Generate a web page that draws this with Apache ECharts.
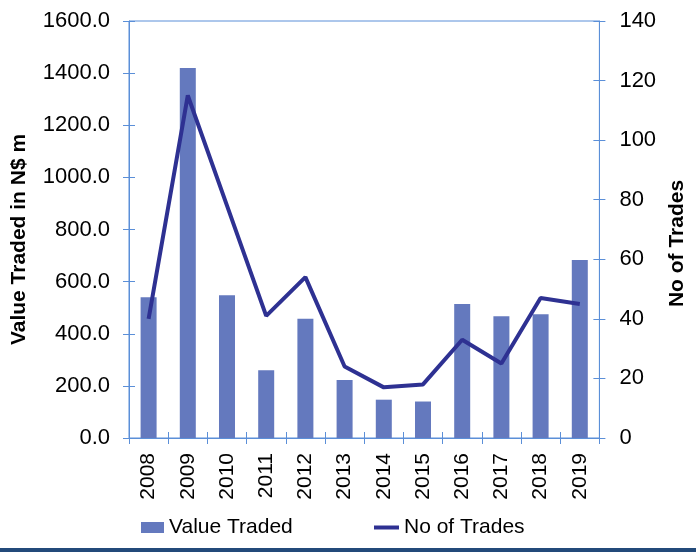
<!DOCTYPE html>
<html>
<head>
<meta charset="utf-8">
<script src="https://cdn.jsdelivr.net/npm/echarts@6/dist/echarts.min.js"></script>
<style>html,body{margin:0;padding:0;background:#fff}#c{width:696px;height:552px}</style>
</head>
<body>
<div id="c"></div>
<script>
const years = ['2008','2009','2010','2011','2012','2013','2014','2015','2016','2017','2018','2019'];
const valueTraded = [540, 1420, 548, 260, 458, 223, 147, 140, 514, 467, 475, 683];
const noOfTrades = [40, 115, 78, 41, 54, 24, 17, 18, 33, 25, 47, 45];
const leftTicks = {min: 0, max: 1600, interval: 200};
const rightTicks = {min: 0, max: 140, interval: 20};

const FONT = 'Liberation Sans';
const AXIS = '#5b8fd8';
const chart = echarts.init(document.getElementById('c'), null, {renderer: 'canvas'});
const tickLen = 6;
chart.setOption({
  animation: false,
  textStyle: {fontFamily: FONT},
  grid: {left: 129, right: 96, top: 21, bottom: 114, show: true, borderColor: AXIS, borderWidth: 1},
  legend: [
    {data: [{name: 'Value Traded', icon: 'rect'}], left: 141, top: 517, itemWidth: 23, itemHeight: 11, itemGap: 0,
     textStyle: {fontFamily: FONT, fontSize: 21, color: '#000'}, padding: 0},
    {data: [{name: 'No of Trades', icon: 'rect'}], left: 374, top: 517, itemWidth: 25, itemHeight: 4, itemGap: 0,
     itemStyle: {color: '#2e3192'}, lineStyle: {width: 0},
     textStyle: {fontFamily: FONT, fontSize: 21, color: '#000'}, padding: 0}
  ],
  xAxis: [
    {type: 'category', data: years, position: 'bottom',
     axisLine: {lineStyle: {color: AXIS, width: 1}},
     axisTick: {show: true, length: tickLen, inside: false, lineStyle: {color: AXIS}},
     axisLabel: {rotate: 90, margin: 15, fontSize: 21, color: '#000', fontFamily: FONT},
     splitLine: {show: false}},
    {type: 'category', data: years, position: 'bottom',
     axisLine: {show: false},
     axisTick: {show: true, length: tickLen, inside: true, lineStyle: {color: AXIS}},
     axisLabel: {show: false}, splitLine: {show: false}}
  ],
  yAxis: [
    {type: 'value', position: 'left', min: leftTicks.min, max: leftTicks.max, interval: leftTicks.interval,
     name: 'Value Traded in N$ m', nameLocation: 'middle', nameRotate: 90, nameGap: 99,
     nameTextStyle: {fontFamily: FONT, fontSize: 21, fontWeight: 'bold', color: '#000', padding: [0, 20, 0, 0]},
     axisLine: {show: true, lineStyle: {color: AXIS}},
     axisTick: {show: true, length: tickLen, lineStyle: {color: AXIS}},
     axisLabel: {margin: 19, fontSize: 22, color: '#000', fontFamily: FONT, formatter: v => v.toFixed(1)},
     splitLine: {show: false}},
    {type: 'value', position: 'right', min: rightTicks.min, max: rightTicks.max, interval: rightTicks.interval,
     name: 'No of Trades', nameLocation: 'middle', nameRotate: 90, nameGap: 65,
     nameTextStyle: {fontFamily: FONT, fontSize: 21, fontWeight: 'bold', color: '#000', padding: [0, 28, 0, 0]},
     axisLine: {show: true, lineStyle: {color: AXIS}},
     axisTick: {show: true, length: tickLen, lineStyle: {color: AXIS}},
     axisLabel: {margin: 20, fontSize: 22, color: '#000', fontFamily: FONT},
     splitLine: {show: false}},
    {type: 'value', position: 'left', min: leftTicks.min, max: leftTicks.max, interval: leftTicks.interval,
     axisLine: {show: false}, axisTick: {show: true, inside: true, length: tickLen, lineStyle: {color: AXIS}},
     axisLabel: {show: false}, splitLine: {show: false}},
    {type: 'value', position: 'right', min: rightTicks.min, max: rightTicks.max, interval: rightTicks.interval,
     axisLine: {show: false}, axisTick: {show: true, inside: true, length: tickLen, lineStyle: {color: AXIS}},
     axisLabel: {show: false}, splitLine: {show: false}}
  ],
  series: [
    {name: 'Value Traded', type: 'bar', data: valueTraded, xAxisIndex: 0, yAxisIndex: 0, barWidth: 16,
     itemStyle: {color: '#6479be'}},
    {name: 'No of Trades', type: 'line', data: noOfTrades, xAxisIndex: 0, yAxisIndex: 1, symbol: 'none',
     lineStyle: {color: '#2e3192', width: 4}, itemStyle: {color: '#2e3192'}}
  ],
  graphic: [
    {type: 'rect', left: 0, top: 548, shape: {width: 696, height: 4}, style: {fill: '#234a7a'}}
  ]
});
</script>
</body>
</html>
